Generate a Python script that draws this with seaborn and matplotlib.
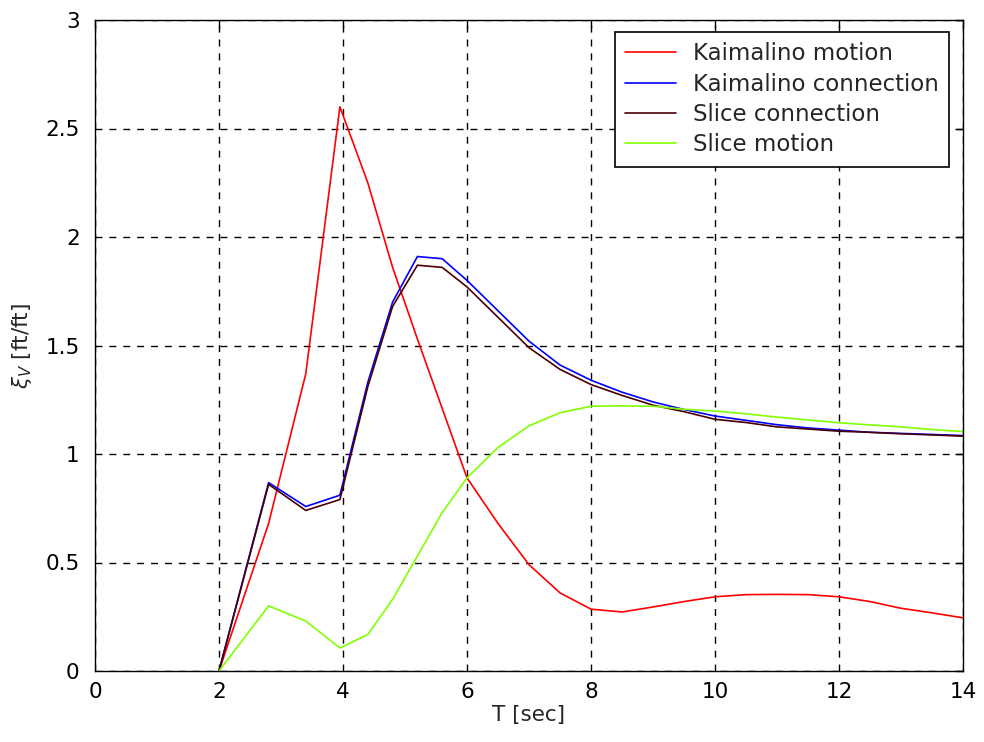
import numpy as np
import pandas as pd
import seaborn as sns
import matplotlib.pyplot as plt

# =====================
# data
# =====================
T = [2, 2.8, 3.4, 3.95, 4.4, 4.8, 5.2, 5.6, 6, 6.5, 7, 7.5, 8, 8.5, 9, 9.5,
     10, 10.5, 11, 11.5, 12, 12.5, 13, 13.5, 14]
kaimalino_motion = [0, 0.68, 1.37, 2.60, 2.25, 1.86, 1.53, 1.21, 0.89, 0.68, 0.49, 0.36,
                    0.285, 0.272, 0.295, 0.32, 0.342, 0.352, 0.353, 0.352, 0.342, 0.32,
                    0.289, 0.268, 0.245]
kaimalino_connection = [0, 0.868, 0.758, 0.81, 1.33, 1.70, 1.91, 1.90, 1.80, 1.66, 1.52,
                        1.41, 1.34, 1.285, 1.24, 1.205, 1.175, 1.155, 1.135, 1.12, 1.11,
                        1.10, 1.095, 1.09, 1.085]
slice_connection = [0, 0.86, 0.74, 0.79, 1.31, 1.68, 1.87, 1.86, 1.77, 1.63, 1.49, 1.39,
                    1.32, 1.27, 1.225, 1.195, 1.16, 1.145, 1.125, 1.115, 1.105, 1.10,
                    1.093, 1.088, 1.082]
slice_motion = [0, 0.30, 0.23, 0.106, 0.168, 0.33, 0.53, 0.73, 0.89, 1.03, 1.13, 1.19,
                1.22, 1.222, 1.22, 1.206, 1.198, 1.185, 1.17, 1.157, 1.144, 1.134,
                1.125, 1.113, 1.103]

names = ['Kaimalino motion', 'Kaimalino connection', 'Slice connection', 'Slice motion']
colors = ['#ff0000', '#0000ff', '#4a0000', '#80ff00']

# long-form table for seaborn
df = pd.concat([
    pd.DataFrame({'T': T, 'xi': vals, 'series': name})
    for name, vals in zip(names, [kaimalino_motion, kaimalino_connection,
                                  slice_connection, slice_motion])
])

sns.set_style('white')
plt.rcParams['font.family'] = ['DejaVu Sans']

fig = plt.figure(figsize=(9.84, 7.42), dpi=100)
ax = fig.add_axes([95 / 984, 1 - 671 / 742, (963 - 95) / 984, (671 - 20) / 742])

sns.lineplot(data=df, x='T', y='xi', hue='series', hue_order=names,
             palette=dict(zip(names, colors)), linewidth=1.2, ax=ax,
             sort=False, estimator=None)

ax.set_xlim(0, 14)
ax.set_ylim(0, 3)
ax.set_xticks(np.arange(0, 15, 2))
ax.set_yticks(np.arange(0, 3.01, 0.5))
ax.set_yticklabels(['0', '0.5', '1', '1.5', '2', '2.5', '3'])
ax.grid(True, color='black', linestyle=(0, (5, 5)), linewidth=1.0)
ax.tick_params(direction='in', top=True, right=True, length=6, width=1,
               labelsize=15.5, colors='black')
ax.tick_params(axis='y', pad=11)
ax.tick_params(axis='x', pad=8)
for sp in ax.spines.values():
    sp.set_color('black')
    sp.set_linewidth(1.0)

ax.set_xlabel('T [sec]', fontsize=15.5, labelpad=2)
ax.set_ylabel(r'$\xi_V$ [ft/ft]', fontsize=15.5, labelpad=8)

leg = ax.legend(loc='upper right', bbox_to_anchor=(949 / 984, 1 - 32 / 742),
                bbox_transform=fig.transFigure, fontsize=16.5, frameon=True,
                fancybox=False, edgecolor='black', framealpha=1,
                handlelength=2.2, handletextpad=0.75, labelspacing=0.32,
                borderpad=0.45, borderaxespad=0)
leg.get_frame().set_linewidth(1.2)

fig.savefig('out.png', dpi=100)
